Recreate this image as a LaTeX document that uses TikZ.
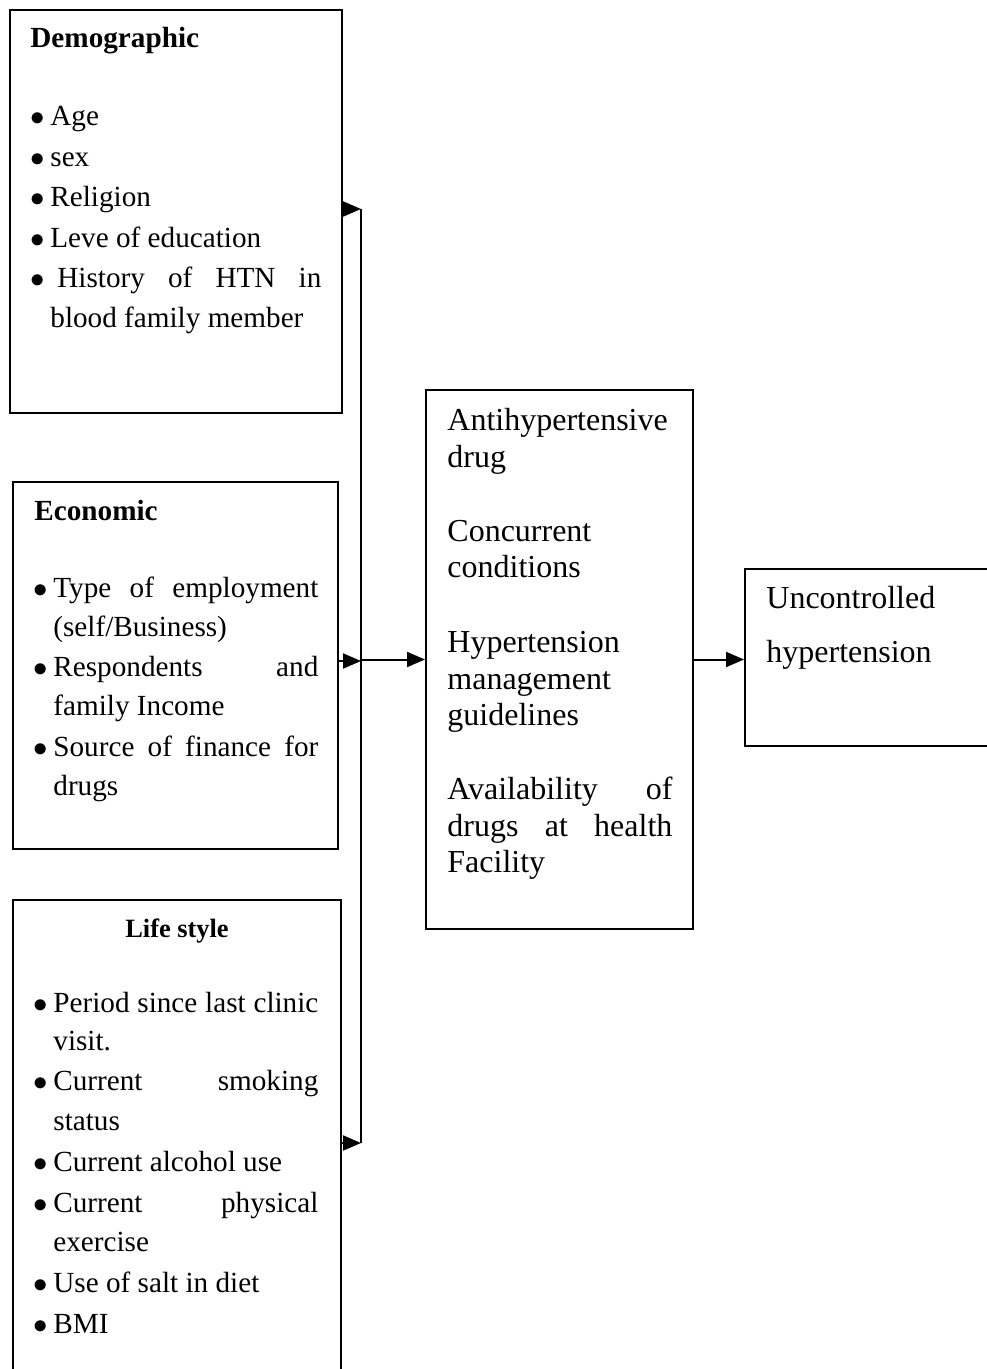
\documentclass[tikz,border=0pt]{standalone}
\usepackage{fontspec}
\setmainfont{Liberation Serif}
\usetikzlibrary{positioning,arrows.meta,fit}

\tikzset{
  factor/.style={draw,line width=1pt,inner sep=0pt},
  title/.style={font=\fontsize{14.6}{17}\selectfont\bfseries,anchor=base west,inner sep=0pt},
  entry/.style={font=\fontsize{14.6}{17}\selectfont,anchor=base west,inner sep=0pt},
  mtext/.style={font=\fontsize{16}{19}\selectfont,anchor=base west,inner sep=0pt},
  link/.style={line width=1pt,-{Triangle[length=9pt,width=7.5pt]}}
}
\newcommand{\bul}{\llap{$\bullet$\hspace{3pt}}}

\begin{document}
\begin{tikzpicture}[x=0.5pt,y=-0.5pt]
          \useasboundingbox (0,0) rectangle (986,1369);
          % boxes
          \node[factor,fit={(10,10) (342,413)}] (demo) {};
          \node[factor,fit={(13,482) (338,849)}] (econ) {};
          \node[factor,fit={(13,900) (341,1400)}] (life) {};
          \node[factor,fit={(426,390) (693,929)}] (mid) {};
          \node[factor,fit={(745,569) (1010,746)}] (out) {};
          % demographic
          \node[title] (demo-h) at (30,48) {Demographic};
          \foreach \y/\t [count=\i] in {126/\bul Age, 167/\bul sex,
            207/\bul Religion, 248/\bul Leve of education,
            288/{\bul\hspace{3.5pt}\makebox[132pt][s]{History of HTN in}},
            328/blood family member}
            \node[entry] (demo-\i) at (50,\y) {\t};
          % economic
          \node[title] (econ-h) at (34,520) {Economic};
          \foreach \y/\t [count=\i] in {597/{\bul\makebox[132.5pt][s]{Type of employment}},
            636/{(self/Business)},
            676/{\bul\makebox[132.5pt][s]{Respondents and}},
            715/family Income,
            756/{\bul\makebox[132.5pt][s]{Source of finance for}},
            795/drugs}
            \node[entry] (econ-\i) at (53,\y) {\t};
          % life style
          \node[title,anchor=base,font=\fontsize{13.2}{16}\selectfont\bfseries] (life-h) at (177,937) {Life style};
          \foreach \y/\t [count=\i] in {1012/{\bul\makebox[132.5pt][s]{Period since last clinic}},
            1050/visit.,
            1090/{\bul\makebox[132.5pt][s]{Current smoking}},
            1130/status,
            1171/\bul Current alcohol use,
            1212/{\bul\makebox[132.5pt][s]{Current physical}},
            1251/exercise,
            1292/\bul Use of salt in diet,
            1333/\bul BMI}
            \node[entry] (life-\i) at (53,\y) {\t};
          % middle box
          \foreach \y/\t [count=\i] in {430/Antihypertensive, 467/drug,
            541/Concurrent, 577/conditions,
            652/Hypertension, 689/management, 725/guidelines,
            799/{\makebox[112.5pt][s]{Availability of}},
            836/{\makebox[112.5pt][s]{drugs at health}},
            872/Facility}
            \node[mtext] (mid-\i) at (447,\y) {\t};
          % outcome
          \node[mtext] (out-1) at (766,608) {Uncontrolled};
          \node[mtext] (out-2) at (766,662) {hypertension};
          % connectors
          \coordinate (b1) at (361,209);
          \coordinate (b2) at (361,661);
          \coordinate (b3) at (361,1143);
          \draw[line width=1pt] (b1) -- (b3);
          \draw[link] (demo.east |- b1) -- (b1);
          \draw[link] (econ.east |- b2) -- (b2);
          \draw[link] (life.east |- b3) -- (b3);
          \draw[link] (b2 |- mid.west) -- (mid.west);
          \draw[link] (mid.east) -- (mid.east -| out.west);
\end{tikzpicture}
\end{document}
